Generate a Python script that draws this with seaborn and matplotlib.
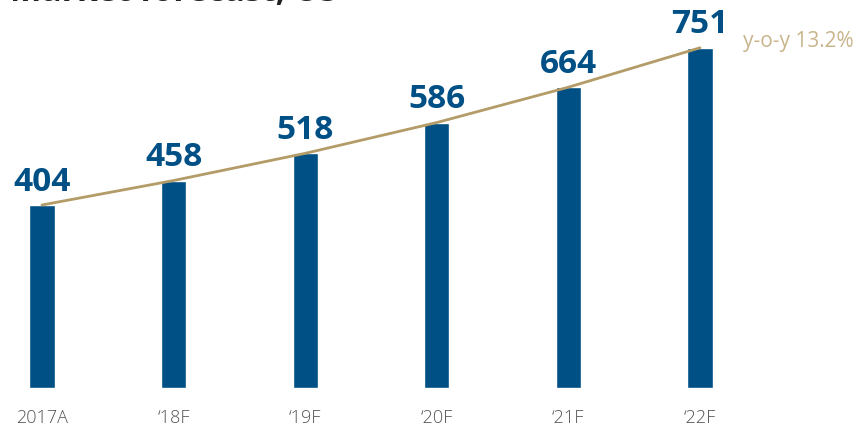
import matplotlib
matplotlib.use("Agg")
import matplotlib.pyplot as plt
import seaborn as sns
import pandas as pd

# Forecast values
categories = ["2017A", "\u201818F", "\u201819F", "\u201820F", "\u201821F", "\u201822F"]
values = [404, 458, 518, 586, 664, 751]
growth_label = "y-o-y 13.2%"
title_text = "Market forecast, US"

BLUE = "#005085"
TAN = "#b39c68"
TAN_TEXT = "#c9b48c"
GREY = "#555555"

sns.set_theme(style="white")
plt.rcParams["font.family"] = ["Open Sans", "DejaVu Sans"]

df = pd.DataFrame({"period": categories, "value": values})

fig = plt.figure(figsize=(8.68, 4.32), dpi=100)
ax = fig.add_axes([0, 44 / 432, 1, 388 / 432])

sns.barplot(data=df, x="period", y="value", color=BLUE, width=0.19,
            saturation=1, ax=ax)
sns.lineplot(x=list(range(len(values))), y=values, color=TAN, linewidth=2,
             ax=ax)

for i, v in enumerate(values):
    ax.text(i, v + 14, f"{v}", ha="center", va="bottom", color=BLUE,
            fontsize=24, fontweight="bold")

ax.text(len(values) - 1 + 0.33, values[-1] + 15, growth_label, ha="left",
        va="center", color=TAN_TEXT, fontsize=15)

ax.set_xlim(-42 / 131.6, (868 - 42) / 131.6)
ax.set_ylim(0, 388 / 0.453)
ax.set_xlabel("")
ax.set_ylabel("")
ax.set_yticks([])
ax.tick_params(axis="x", length=0, pad=15, labelsize=13, labelcolor=GREY)
for lbl in ax.get_xticklabels():
    lbl.set_fontweight("light")
sns.despine(ax=ax, left=True, bottom=True)

fig.text(10 / 868, 1 - 1 / 432, title_text, ha="left", va="baseline",
         fontsize=24, fontweight="bold", color="#222222")

fig.savefig("out.png", dpi=100)
